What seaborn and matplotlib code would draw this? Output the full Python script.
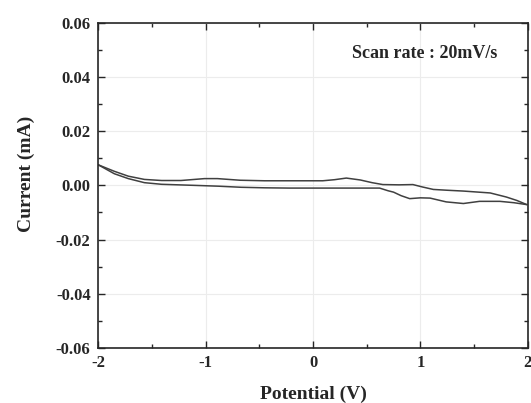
import pandas as pd
import seaborn as sns
import matplotlib.pyplot as plt
from matplotlib.ticker import MultipleLocator

# forward scan (-2 V -> 2 V)
fwd_v = [-2.0, -1.85, -1.72, -1.57, -1.41, -1.23, -1.01, -0.89, -0.68, -0.45, -0.22,
         0.09, 0.2, 0.31, 0.44, 0.55, 0.65, 0.8, 0.93, 1.02, 1.12, 1.25, 1.40, 1.65,
         1.80, 1.90, 1.99]
fwd_i = [0.0076, 0.0052, 0.0034, 0.0022, 0.0018, 0.0018, 0.0025, 0.0025, 0.0019, 0.0017,
         0.0017, 0.0017, 0.0021, 0.0027, 0.0020, 0.0010, 0.0003, 0.0002, 0.0003, -0.0006,
         -0.0015, -0.0018, -0.0021, -0.0028, -0.0043, -0.0056, -0.0071]

# reverse scan (2 V -> -2 V)
rev_v = [1.99, 1.87, 1.74, 1.55, 1.40, 1.24, 1.09, 1.0, 0.90, 0.82, 0.75, 0.70, 0.62,
         0.40, 0.1, -0.22, -0.45, -0.67, -0.88, -1.10, -1.41, -1.57, -1.72, -1.85, -2.0]
rev_i = [-0.0071, -0.0064, -0.0059, -0.0059, -0.0067, -0.0061, -0.0047, -0.0046, -0.0049,
         -0.0038, -0.0025, -0.0020, -0.0010, -0.0010, -0.0010, -0.0010, -0.0009, -0.0007,
         -0.0003, 0.0000, 0.0004, 0.0010, 0.0025, 0.0043, 0.0076]

df = pd.DataFrame({
    "Potential": fwd_v + rev_v,
    "Current": fwd_i + rev_i,
    "branch": ["fwd"] * len(fwd_v) + ["rev"] * len(rev_v),
})

sns.set_style("ticks")
plt.rcParams["font.family"] = ["Liberation Serif", "DejaVu Serif"]
plt.rcParams["font.weight"] = "bold"

fig = plt.figure(figsize=(5.31, 4.03), dpi=100)
ax = fig.add_axes([0.185, 0.137, 0.809, 0.806])

for b, g in df.groupby("branch"):
    sns.lineplot(data=g, x="Potential", y="Current", sort=False, estimator=None,
                 color="#404040", linewidth=1.1, ax=ax)

ax.set_xlim(-2, 2)
ax.set_ylim(-0.06, 0.06)
ax.xaxis.set_minor_locator(MultipleLocator(0.5))
ax.yaxis.set_minor_locator(MultipleLocator(0.01))
ax.set_xticks([-2, -1, 0, 1, 2])
ax.set_xticklabels(["-2", "-1", "0", "1", "2"], fontweight="bold")
yt = [-0.06, -0.04, -0.02, 0.0, 0.02, 0.04, 0.06]
ax.set_yticks(yt)
ax.set_yticklabels([f"{v:.2f}" for v in yt], fontweight="bold")
ax.tick_params(which="both", direction="in", top=True, right=True, labelsize=12, width=1)
ax.tick_params(which="major", length=5, pad=5.5)
ax.tick_params(which="minor", length=3)
ax.grid(True, which="major", color="#ececec", linewidth=0.8)
for s in ax.spines.values():
    s.set_linewidth(1.2)

ax.set_xlabel("Potential (V)", fontsize=14, fontweight="bold", labelpad=10)
ax.set_ylabel("Current (mA)", fontsize=14, fontweight="bold", labelpad=15, y=0.535)
ax.text(0.928, 0.905, "Scan rate : 20mV/s", transform=ax.transAxes, ha="right",
        va="center", fontsize=13, fontweight="bold")

fig.savefig("out.png", dpi=100)
